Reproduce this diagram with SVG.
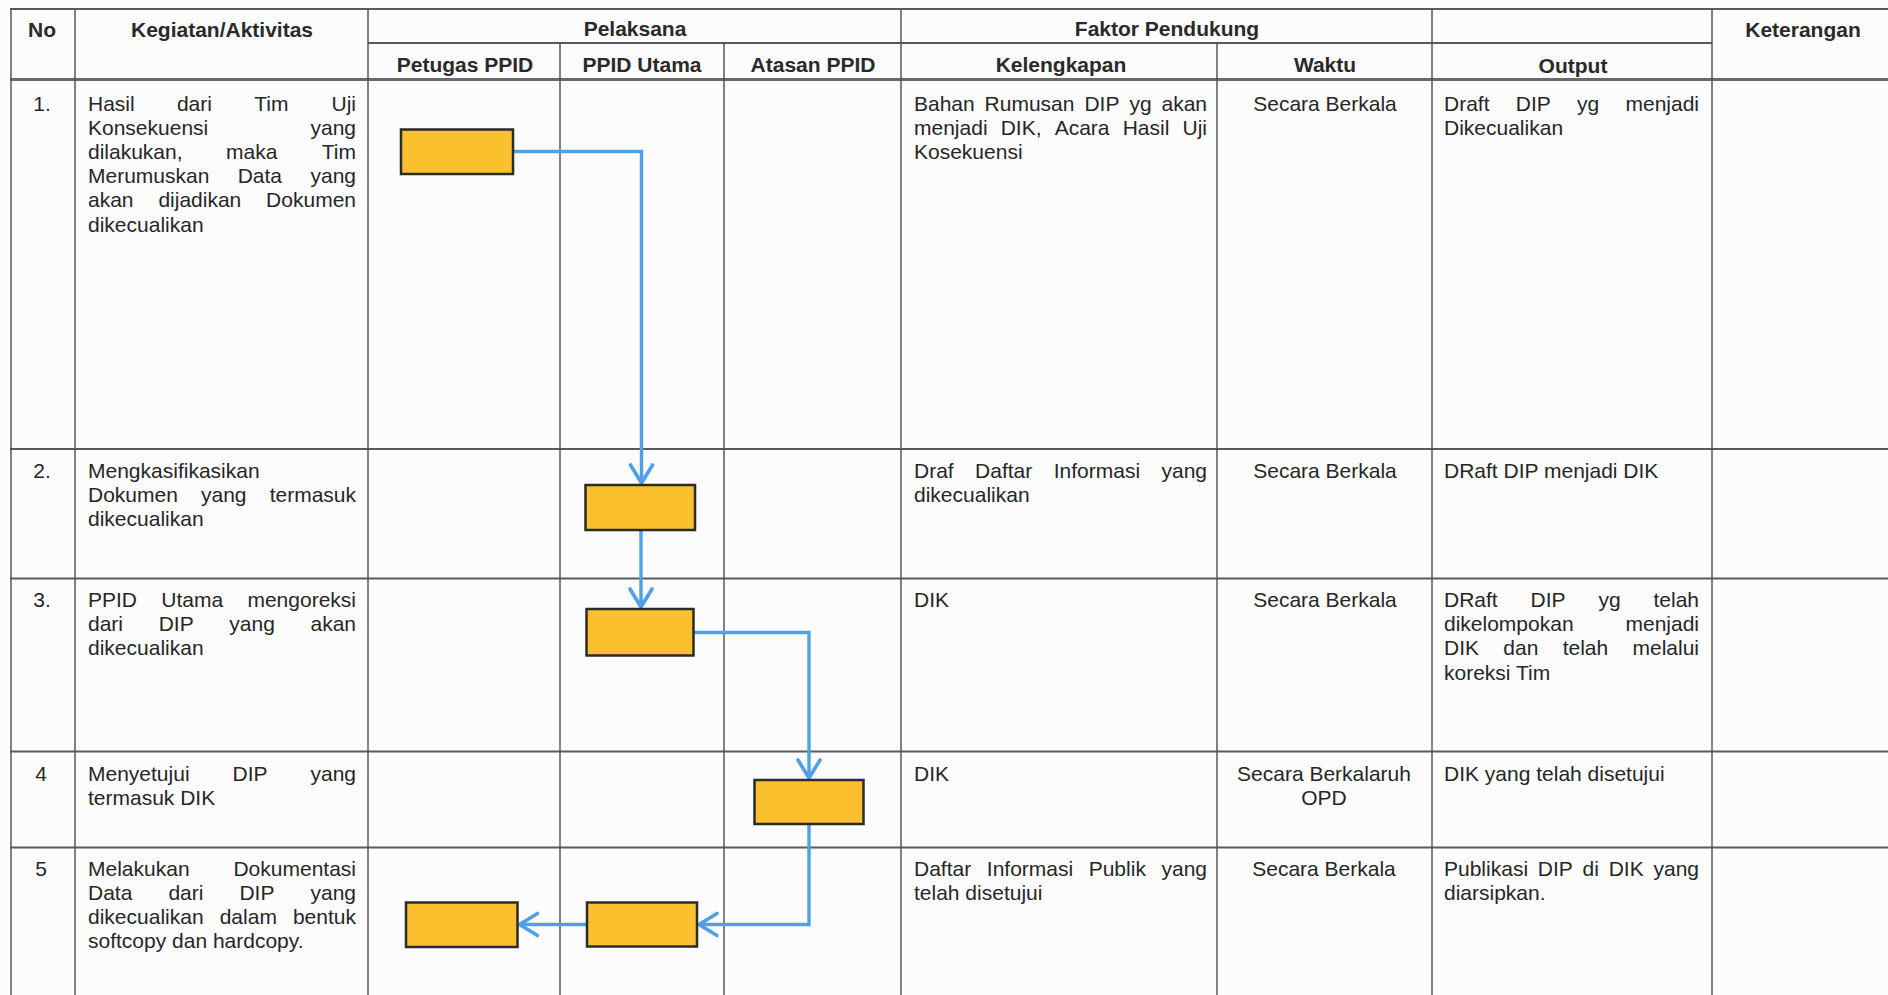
<svg xmlns="http://www.w3.org/2000/svg" width="1888" height="995" viewBox="0 0 1888 995">
<style>
.t{font-family:"Liberation Sans",Arial,sans-serif;font-size:21px;fill:#262626}
.h{font-family:"Liberation Sans",Arial,sans-serif;font-size:21px;font-weight:bold;fill:#2a2a2a;text-anchor:middle}
.e{text-anchor:end}
.m{text-anchor:middle}
.v{stroke:#4d4d4d;stroke-width:1.4;fill:none}
.r{stroke:#5a5a5a;stroke-width:2;fill:none}
.box{fill:#FBC02E;stroke:#2b2b2b;stroke-width:2.5}
.c{fill:none;stroke:#4FA0E6;stroke-width:3.4}
</style>
<defs>
<marker id="ah" markerUnits="userSpaceOnUse" markerWidth="30" markerHeight="30" viewBox="-22 -15 26 30" refX="0" refY="0" orient="auto">
<path d="M-18,-11 L0,0 L-18,11" fill="none" stroke="#4FA0E6" stroke-width="3.6" stroke-linecap="round"/>
</marker>
</defs>
<rect x="0" y="0" width="1888" height="995" fill="#fdfcfd"/>

<g id="grid">
<line class="r" x1="10" y1="9" x2="1888" y2="9"/>
<line class="r" x1="368" y1="43" x2="1712" y2="43"/>
<line x1="10" y1="79.5" x2="1888" y2="79.5" stroke="#6a6a6a" stroke-width="3.2"/>
<line class="r" x1="10" y1="449" x2="1888" y2="449"/>
<line class="r" x1="10" y1="578.5" x2="1888" y2="578.5"/>
<line class="r" x1="10" y1="751.5" x2="1888" y2="751.5"/>
<line class="r" x1="10" y1="847.5" x2="1888" y2="847.5"/>
<line class="v" x1="11" y1="9" x2="11" y2="995"/>
<line class="v" x1="75" y1="9" x2="75" y2="995"/>
<line class="v" x1="368" y1="9" x2="368" y2="995"/>
<line class="v" x1="560" y1="43" x2="560" y2="995"/>
<line class="v" x1="724" y1="43" x2="724" y2="995"/>
<line class="v" x1="901" y1="9" x2="901" y2="995"/>
<line class="v" x1="1217" y1="43" x2="1217" y2="995"/>
<line class="v" x1="1432" y1="9" x2="1432" y2="995"/>
<line class="v" x1="1712" y1="9" x2="1712" y2="995"/>
</g>

<g id="header">
<text class="h" x="42" y="37">No</text>
<text class="h" x="222" y="37">Kegiatan/Aktivitas</text>
<text class="h" x="635" y="36">Pelaksana</text>
<text class="h" x="1167" y="36">Faktor Pendukung</text>
<text class="h" x="1803" y="37">Keterangan</text>
<text class="h" x="465" y="72">Petugas PPID</text>
<text class="h" x="642" y="72">PPID Utama</text>
<text class="h" x="813" y="72">Atasan PPID</text>
<text class="h" x="1061" y="72">Kelengkapan</text>
<text class="h" x="1325" y="72">Waktu</text>
<text class="h" x="1573" y="73">Output</text>
</g>

<g id="row-1">
<text class="t m" x="42" y="110.5">1.</text>
<text class="t" x="88" y="110.5">Hasil</text><text class="t" x="176.9" y="110.5">dari</text><text class="t" x="254.2" y="110.5">Tim</text><text class="t e" x="356" y="110.5">Uji</text>
<text class="t" x="88" y="134.7">Konsekuensi</text><text class="t e" x="356" y="134.7">yang</text>
<text class="t" x="88" y="158.9">dilakukan,</text><text class="t" x="226.1" y="158.9">maka</text><text class="t e" x="356" y="158.9">Tim</text>
<text class="t" x="88" y="183.1">Merumuskan</text><text class="t" x="237.7" y="183.1">Data</text><text class="t e" x="356" y="183.1">yang</text>
<text class="t" x="88" y="207.3">akan</text><text class="t" x="158.4" y="207.3">dijadikan</text><text class="t e" x="356" y="207.3">Dokumen</text>
<text class="t" x="88" y="231.5">dikecualikan</text>
<text class="t" x="914" y="110.5">Bahan</text><text class="t" x="984.6" y="110.5">Rumusan</text><text class="t" x="1084.4" y="110.5">DIP</text><text class="t" x="1129.4" y="110.5">yg</text><text class="t e" x="1207" y="110.5">akan</text>
<text class="t" x="914" y="134.7">menjadi</text><text class="t" x="1000.7" y="134.7">DIK,</text><text class="t" x="1054.7" y="134.7">Acara</text><text class="t" x="1122.7" y="134.7">Hasil</text><text class="t e" x="1207" y="134.7">Uji</text>
<text class="t" x="914" y="158.9">Kosekuensi</text>
<text class="t m" x="1325" y="110.5">Secara Berkala</text>
<text class="t" x="1444" y="110.5">Draft</text><text class="t" x="1515.8" y="110.5">DIP</text><text class="t" x="1577" y="110.5">yg</text><text class="t e" x="1699" y="110.5">menjadi</text>
<text class="t" x="1444" y="134.7">Dikecualikan</text>
</g>

<g id="row-2">
<text class="t m" x="42" y="478">2.</text>
<text class="t" x="88" y="478">Mengkasifikasikan</text>
<text class="t" x="88" y="502.2">Dokumen</text><text class="t" x="201" y="502.2">yang</text><text class="t e" x="356" y="502.2">termasuk</text>
<text class="t" x="88" y="526.4">dikecualikan</text>
<text class="t" x="914" y="478">Draf</text><text class="t" x="975.1" y="478">Daftar</text><text class="t" x="1053.7" y="478">Informasi</text><text class="t e" x="1207" y="478">yang</text>
<text class="t" x="914" y="502.2">dikecualikan</text>
<text class="t m" x="1325" y="478">Secara Berkala</text>
<text class="t" x="1444" y="478">DRaft DIP menjadi DIK</text>
</g>

<g id="row-3">
<text class="t m" x="42" y="607">3.</text>
<text class="t" x="88" y="607">PPID</text><text class="t" x="161.3" y="607">Utama</text><text class="t e" x="356" y="607">mengoreksi</text>
<text class="t" x="88" y="631.2">dari</text><text class="t" x="158.7" y="631.2">DIP</text><text class="t" x="229.3" y="631.2">yang</text><text class="t e" x="356" y="631.2">akan</text>
<text class="t" x="88" y="655.4">dikecualikan</text>
<text class="t" x="914" y="607">DIK</text>
<text class="t m" x="1325" y="607">Secara Berkala</text>
<text class="t" x="1444" y="607">DRaft</text><text class="t" x="1530.6" y="607">DIP</text><text class="t" x="1598.4" y="607">yg</text><text class="t e" x="1699" y="607">telah</text>
<text class="t" x="1444" y="631.2">dikelompokan</text><text class="t e" x="1699" y="631.2">menjadi</text>
<text class="t" x="1444" y="655.4">DIK</text><text class="t" x="1503.3" y="655.4">dan</text><text class="t" x="1562.7" y="655.4">telah</text><text class="t e" x="1699" y="655.4">melalui</text>
<text class="t" x="1444" y="679.6">koreksi Tim</text>
</g>

<g id="row-4">
<text class="t m" x="41" y="780.5">4</text>
<text class="t" x="88" y="780.5">Menyetujui</text><text class="t" x="232.5" y="780.5">DIP</text><text class="t e" x="356" y="780.5">yang</text>
<text class="t" x="88" y="804.7">termasuk DIK</text>
<text class="t" x="914" y="780.5">DIK</text>
<text class="t m" x="1324" y="780.5">Secara Berkalaruh</text>
<text class="t m" x="1324" y="804.7">OPD</text>
<text class="t" x="1444" y="780.5">DIK yang telah disetujui</text>
</g>

<g id="row-5">
<text class="t m" x="41" y="875.5">5</text>
<text class="t" x="88" y="875.5">Melakukan</text><text class="t e" x="356" y="875.5">Dokumentasi</text>
<text class="t" x="88" y="899.7">Data</text><text class="t" x="168.4" y="899.7">dari</text><text class="t" x="239.4" y="899.7">DIP</text><text class="t e" x="356" y="899.7">yang</text>
<text class="t" x="88" y="923.9">dikecualikan</text><text class="t" x="219.7" y="923.9">dalam</text><text class="t e" x="356" y="923.9">bentuk</text>
<text class="t" x="88" y="948.1">softcopy dan hardcopy.</text>
<text class="t" x="914" y="875.5">Daftar</text><text class="t" x="986.8" y="875.5">Informasi</text><text class="t" x="1088.7" y="875.5">Publik</text><text class="t e" x="1207" y="875.5">yang</text>
<text class="t" x="914" y="899.7">telah disetujui</text>
<text class="t m" x="1324" y="875.5">Secara Berkala</text>
<text class="t" x="1444" y="875.5">Publikasi</text><text class="t" x="1537.8" y="875.5">DIP</text><text class="t" x="1582.6" y="875.5">di</text><text class="t" x="1608.7" y="875.5">DIK</text><text class="t e" x="1699" y="875.5">yang</text>
<text class="t" x="1444" y="899.7">diarsipkan.</text>
</g>

<g id="connectors">
<path class="c" d="M514,151.5 H641.5 V483" marker-end="url(#ah)"/>
<path class="c" d="M641,531 V607" marker-end="url(#ah)"/>
<path class="c" d="M694,632.5 H809 V778" marker-end="url(#ah)"/>
<path class="c" d="M809,825 V924.5 H699" marker-end="url(#ah)"/>
<path class="c" d="M586,924.5 H519.5" marker-end="url(#ah)"/>
</g>

<g id="node-1"><rect class="box" x="401" y="129.5" width="112" height="44.5"/></g>
<g id="node-2"><rect class="box" x="585.5" y="485" width="109.5" height="45"/></g>
<g id="node-3"><rect class="box" x="586.5" y="609" width="107" height="46.5"/></g>
<g id="node-4"><rect class="box" x="754.5" y="780" width="109" height="44"/></g>
<g id="node-5a"><rect class="box" x="587" y="902.5" width="110" height="44"/></g>
<g id="node-5b"><rect class="box" x="406" y="902.5" width="111.5" height="44.5"/></g>
</svg>
